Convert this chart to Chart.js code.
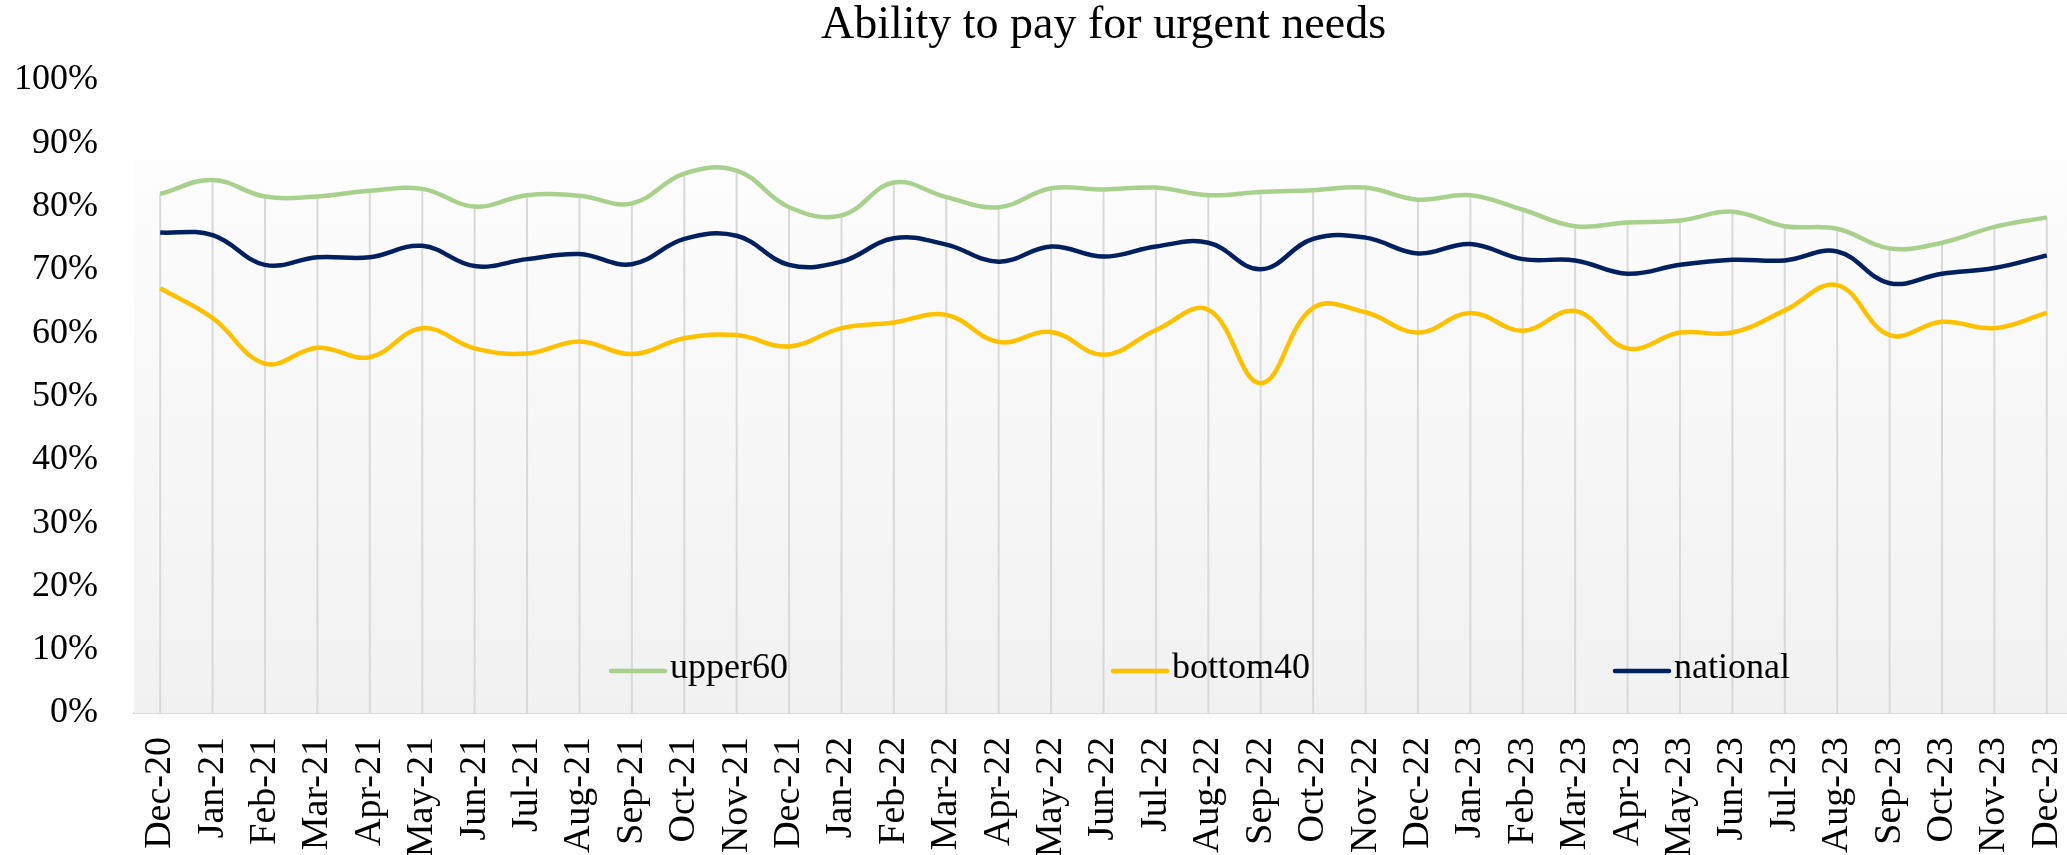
<!DOCTYPE html>
<html lang="en">
<head>
    <meta charset="UTF-8" />
    <title>Ability to pay for urgent needs</title>
    <script src="https://cdn.jsdelivr.net/npm/chart.js"></script>
    <style>
        html, body {
            margin: 0;
            padding: 0;
            overflow: hidden;
            background: #fff;
        }
    </style>
</head>
<body>

    <canvas id="chart" width="2075" height="855"></canvas>

    <script>
        const months = [
            'Dec-20', 'Jan-21', 'Feb-21', 'Mar-21', 'Apr-21', 'May-21', 'Jun-21', 'Jul-21', 'Aug-21', 'Sep-21',
            'Oct-21', 'Nov-21', 'Dec-21', 'Jan-22', 'Feb-22', 'Mar-22', 'Apr-22', 'May-22', 'Jun-22', 'Jul-22',
            'Aug-22', 'Sep-22', 'Oct-22', 'Nov-22', 'Dec-22', 'Jan-23', 'Feb-23', 'Mar-23', 'Apr-23', 'May-23',
            'Jun-23', 'Jul-23', 'Aug-23', 'Sep-23', 'Oct-23', 'Nov-23', 'Dec-23'
        ];

        const upper60 = [
            82.0, 84.2, 81.6, 81.6, 82.5, 82.8, 80.0, 81.8, 81.7, 80.5,
            85.2, 85.7, 79.9, 78.6, 83.8, 81.5, 79.9, 82.9, 82.7, 83.0,
            81.8, 82.3, 82.6, 83.0, 81.1, 81.8, 79.5, 76.9, 77.5, 77.8,
            79.2, 76.9, 76.5, 73.4, 74.3, 76.8, 78.3
        ];
        const bottom40 = [
            67.1, 62.4, 55.2, 57.7, 56.2, 60.8, 57.6, 56.8, 58.7, 56.7,
            59.2, 59.7, 57.9, 60.8, 61.7, 62.9, 58.6, 60.2, 56.6, 60.5,
            63.7, 52.1, 64.0, 63.3, 60.1, 63.2, 60.4, 63.5, 57.6, 60.1,
            60.1, 63.6, 67.6, 59.7, 61.8, 60.8, 63.2
        ];
        const national = [
            75.9, 75.5, 70.8, 72.0, 72.0, 73.8, 70.6, 71.7, 72.5, 70.9,
            74.9, 75.4, 70.8, 71.3, 75.0, 74.0, 71.3, 73.7, 72.1, 73.7,
            74.3, 70.1, 74.9, 75.1, 72.6, 74.1, 71.7, 71.5, 69.4, 70.8,
            71.6, 71.5, 72.9, 67.9, 69.4, 70.3, 72.3
        ];

        const yTicks = [0, 10, 20, 30, 40, 50, 60, 70, 80, 90, 100];

        const serif = '"Liberation Serif", "Times New Roman", serif';

        // plot area fill + drop lines from the highest point down to the axis
        const backdrop = {
            id: 'backdrop',
            beforeDatasetsDraw(chart) {
                const { ctx, chartArea: a } = chart;
                const top = a.top + 80;
                const g = ctx.createLinearGradient(0, top, 0, a.bottom);
                g.addColorStop(0, '#fdfdfd');
                g.addColorStop(1, '#f1f1f1');
                ctx.save();
                ctx.fillStyle = g;
                ctx.fillRect(a.left, top, a.right - a.left, a.bottom - top);

                ctx.strokeStyle = '#d9d9d9';
                ctx.lineWidth = 2;
                const metas = chart.data.datasets.map((d, i) => chart.getDatasetMeta(i));
                months.forEach((m, i) => {
                    const pts = metas.map(mt => mt.data[i]);
                    const x = pts[0].x;
                    const yTop = Math.min(...pts.map(p => p.y));
                    ctx.beginPath();
                    ctx.moveTo(x, yTop);
                    ctx.lineTo(x, a.bottom);
                    ctx.stroke();
                });
                ctx.restore();
            }
        };

        // legend sits inside the plot area, near the bottom
        const innerLegend = {
            id: 'innerLegend',
            afterDatasetsDraw(chart) {
                const { ctx, chartArea: a } = chart;
                const y = a.bottom - 42;
                ctx.save();
                ctx.font = '36px ' + serif;
                ctx.textBaseline = 'middle';
                ctx.fillStyle = '#000';
                chart.data.datasets.forEach((d, i) => {
                    const x0 = a.left + 477 + i * 502;
                    ctx.strokeStyle = d.borderColor;
                    ctx.lineWidth = 4.5;
                    ctx.lineCap = 'round';
                    ctx.beginPath();
                    ctx.moveTo(x0, y);
                    ctx.lineTo(x0 + 54, y);
                    ctx.stroke();
                    ctx.fillText(d.label, x0 + 59, y - 2);
                });
                ctx.restore();
            }
        };

        const line = (label, data, color) => ({
            label, data,
            borderColor: color,
            backgroundColor: color,
            borderWidth: 4.5,
            pointRadius: 0,
            tension: 0.4,
            fill: false
        });

        new Chart(document.getElementById('chart'), {
            type: 'line',
            data: {
                labels: months,
                datasets: [
                    line('upper60', upper60, '#a9d18e'),
                    line('bottom40', bottom40, '#ffc000'),
                    line('national', national, '#002060')
                ]
            },
            options: {
                responsive: false,
                animation: false,
                devicePixelRatio: 1,
                layout: { padding: { left: 0, right: 2, top: 0, bottom: 0 } },
                plugins: {
                    legend: { display: false },
                    tooltip: { enabled: false },
                    title: {
                        display: true,
                        text: 'Ability to pay for urgent needs',
                        fullSize: false,
                        color: '#000',
                        font: { family: serif, size: 46, weight: 'normal', lineHeight: 1 },
                        padding: { top: 3, bottom: 31 }
                    }
                },
                scales: {
                    x: {
                        offset: true,
                        grid: { display: false, drawTicks: false },
                        border: { display: true, color: '#d9d9d9', width: 2 },
                        ticks: {
                            autoSkip: false,
                            maxRotation: 90,
                            minRotation: 90,
                            padding: 24,
                            color: '#000',
                            font: { family: serif, size: 38 }
                        },
                        afterFit: s => {
                            s.height = 142;
                            s.paddingLeft = 0;
                            s.paddingRight = 0;
                        }
                    },
                    y: {
                        min: 0,
                        max: 100,
                        grid: { display: false, drawTicks: false },
                        border: { display: false },
                        afterBuildTicks: s => { s.ticks = yTicks.map(v => ({ value: v })); },
                        ticks: {
                            padding: 36,
                            color: '#000',
                            font: { family: serif, size: 36 },
                            callback: v => v + '%'
                        },
                        afterFit: s => { s.width = 134; }
                    }
                }
            },
            plugins: [backdrop, innerLegend]
        });
    </script>

</body>
</html>
